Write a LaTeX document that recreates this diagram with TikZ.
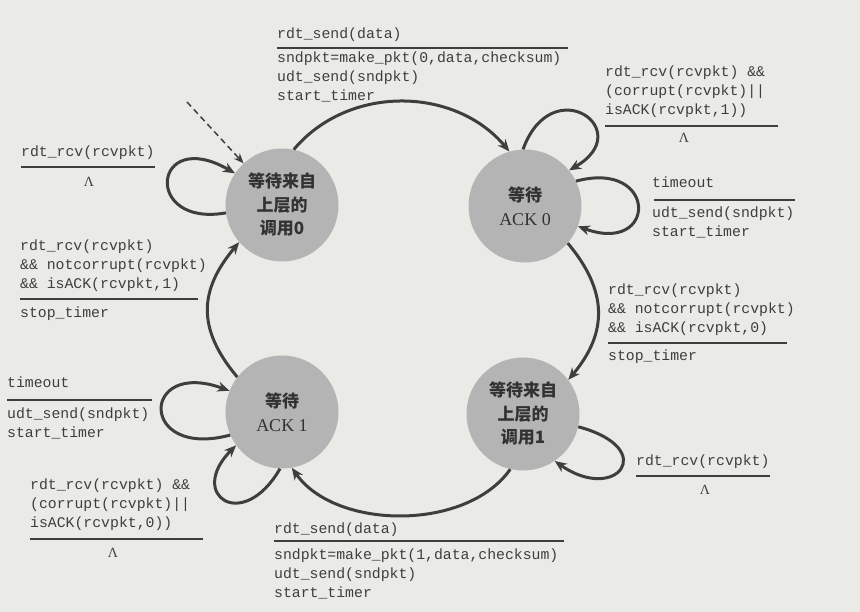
\documentclass[tikz,border=0pt]{standalone}
\usepackage{fontspec}
\setmainfont{Liberation Serif}
\setmonofont{Liberation Mono}
\newfontfamily\cjk{Noto Sans CJK SC}
\usepackage{xcolor}
\usepackage{tikz}
\usetikzlibrary{arrows.meta,positioning}

\definecolor{paper}{RGB}{234,234,231}
\definecolor{disc}{RGB}{180,180,180}
\definecolor{ink}{RGB}{62,62,62}

\begin{document}
\begin{tikzpicture}[x=1pt, y=1pt,
    state/.style={circle, fill=disc, minimum size=113pt, inner sep=0pt, align=center,
        text=ink!80!black, font=\cjk\bfseries\fontsize{17}{23.5}\selectfont},
    arrow/.style={-{Stealth[length=12pt,width=10pt]}, line width=3pt, draw=ink},
    code/.style={anchor=base west, inner sep=0pt, align=left, text=ink,
        font=\ttfamily\fontsize{14.8}{19}\selectfont},
    rule/.style={line width=1.2pt, draw=ink},
    nil/.style={inner sep=0pt, text=ink, font=\rmfamily\fontsize{14}{14}\selectfont}
]
    \fill[paper] (0,0) rectangle (860,-612);
    \useasboundingbox (0,0) rectangle (860,-612);

    % states
    \node[state] (w0) at (282,-205) {等待来自\\上层的\\调用0};
    \node[state] (a0) at (525,-206) {等待\\\mdseries\rmfamily\fontsize{18}{23.5}\selectfont ACK 0};
    \node[state] (a1) at (282,-412) {等待\\\mdseries\rmfamily\fontsize{18}{23.5}\selectfont ACK 1};
    \node[state] (w1) at (523,-414) {等待来自\\上层的\\调用1};

    % transitions
    \coordinate (init) at (187,-102);
    \draw[arrow, line width=1.5pt, dash pattern=on 6pt off 4pt,
        -{Stealth[length=10pt,width=8pt]}] (init) -- (w0);
    \draw[arrow] (w0.78) .. controls +(50:85) and +(130:85) .. (a0.106);
    \draw[arrow] (a0.-41) .. controls +(-50:62) and +(50:62) .. (w1.37);
    \draw[arrow] (w1.-103) .. controls +(235:76) and +(305:76) .. (a1.-80);
    \draw[arrow] (a1.142) .. controls +(130:63) and +(230:63) .. (w0.221);

    % self loops
    \draw[arrow] (w0.188) .. controls +(190:85) and +(150:95) .. (w0.146);
    \draw[arrow] (a0.92) .. controls +(70:85) and +(30:80) .. (a0.39);
    \draw[arrow] (a0.26) .. controls +(15:85) and +(-20:85) .. (a0.-21);
    \draw[arrow] (w1.-13) .. controls +(-15:85) and +(-35:75) .. (w1.-56);
    \draw[arrow] (a1.204) .. controls +(195:95) and +(160:95) .. (a1.158);
    \draw[arrow] (a1.268) .. controls +(240:75) and +(225:70) .. (a1.216);

    % labels (multi-line nodes sit on their last baseline)
    \node[code] (sendev0) at (277,-39) {rdt\_send(data)};
    \draw[rule] (277,-48) -- (568,-48);
    \node[code] (sendact0) at (277,-101) {sndpkt=make\_pkt(0,data,checksum)\\udt\_send(sndpkt)\\start\_timer};

    \node[code] (rcvev0) at (21,-157) {rdt\_rcv(rcvpkt)};
    \draw[rule] (21,-167) -- (155,-167);
    \node[nil] (rcvnil0) at (89,-182) {Λ};

    \node[code] (ackev1) at (20,-289) {rdt\_rcv(rcvpkt)\\\&\& notcorrupt(rcvpkt)\\\&\& isACK(rcvpkt,1)};
    \draw[rule] (20,-299) -- (198,-299);
    \node[code] (ackact1) at (20,-318) {stop\_timer};

    \node[code] (badev0) at (605,-115) {rdt\_rcv(rcvpkt) \&\&\\(corrupt(rcvpkt)||\\isACK(rcvpkt,1))};
    \draw[rule] (605,-126) -- (778,-126);
    \node[nil] (badnil0) at (684,-138) {Λ};

    \node[code] (toev0) at (652,-188) {timeout};
    \draw[rule] (654,-200) -- (795,-200);
    \node[code] (toact0) at (652,-237) {udt\_send(sndpkt)\\start\_timer};

    \node[code] (ackev0) at (608,-333) {rdt\_rcv(rcvpkt)\\\&\& notcorrupt(rcvpkt)\\\&\& isACK(rcvpkt,0)};
    \draw[rule] (608,-343) -- (787,-343);
    \node[code] (ackact0) at (608,-361) {stop\_timer};

    \node[code] (rcvev1) at (636,-465) {rdt\_rcv(rcvpkt)};
    \draw[rule] (636,-476) -- (770,-476);
    \node[nil] (rcvnil1) at (705,-490) {Λ};

    \node[code] (sendev1) at (274,-533) {rdt\_send(data)};
    \draw[rule] (274,-541) -- (564,-541);
    \node[code] (sendact1) at (274,-597) {sndpkt=make\_pkt(1,data,checksum)\\udt\_send(sndpkt)\\start\_timer};

    \node[code] (toev1) at (7,-388) {timeout};
    \draw[rule] (7,-400) -- (152,-400);
    \node[code] (toact1) at (7,-437) {udt\_send(sndpkt)\\start\_timer};

    \node[code] (badev1) at (30,-527) {rdt\_rcv(rcvpkt) \&\&\\(corrupt(rcvpkt)||\\isACK(rcvpkt,0))};
    \draw[rule] (30,-539) -- (203,-539);
    \node[nil] (badnil1) at (113,-553) {Λ};
\end{tikzpicture}
\end{document}
